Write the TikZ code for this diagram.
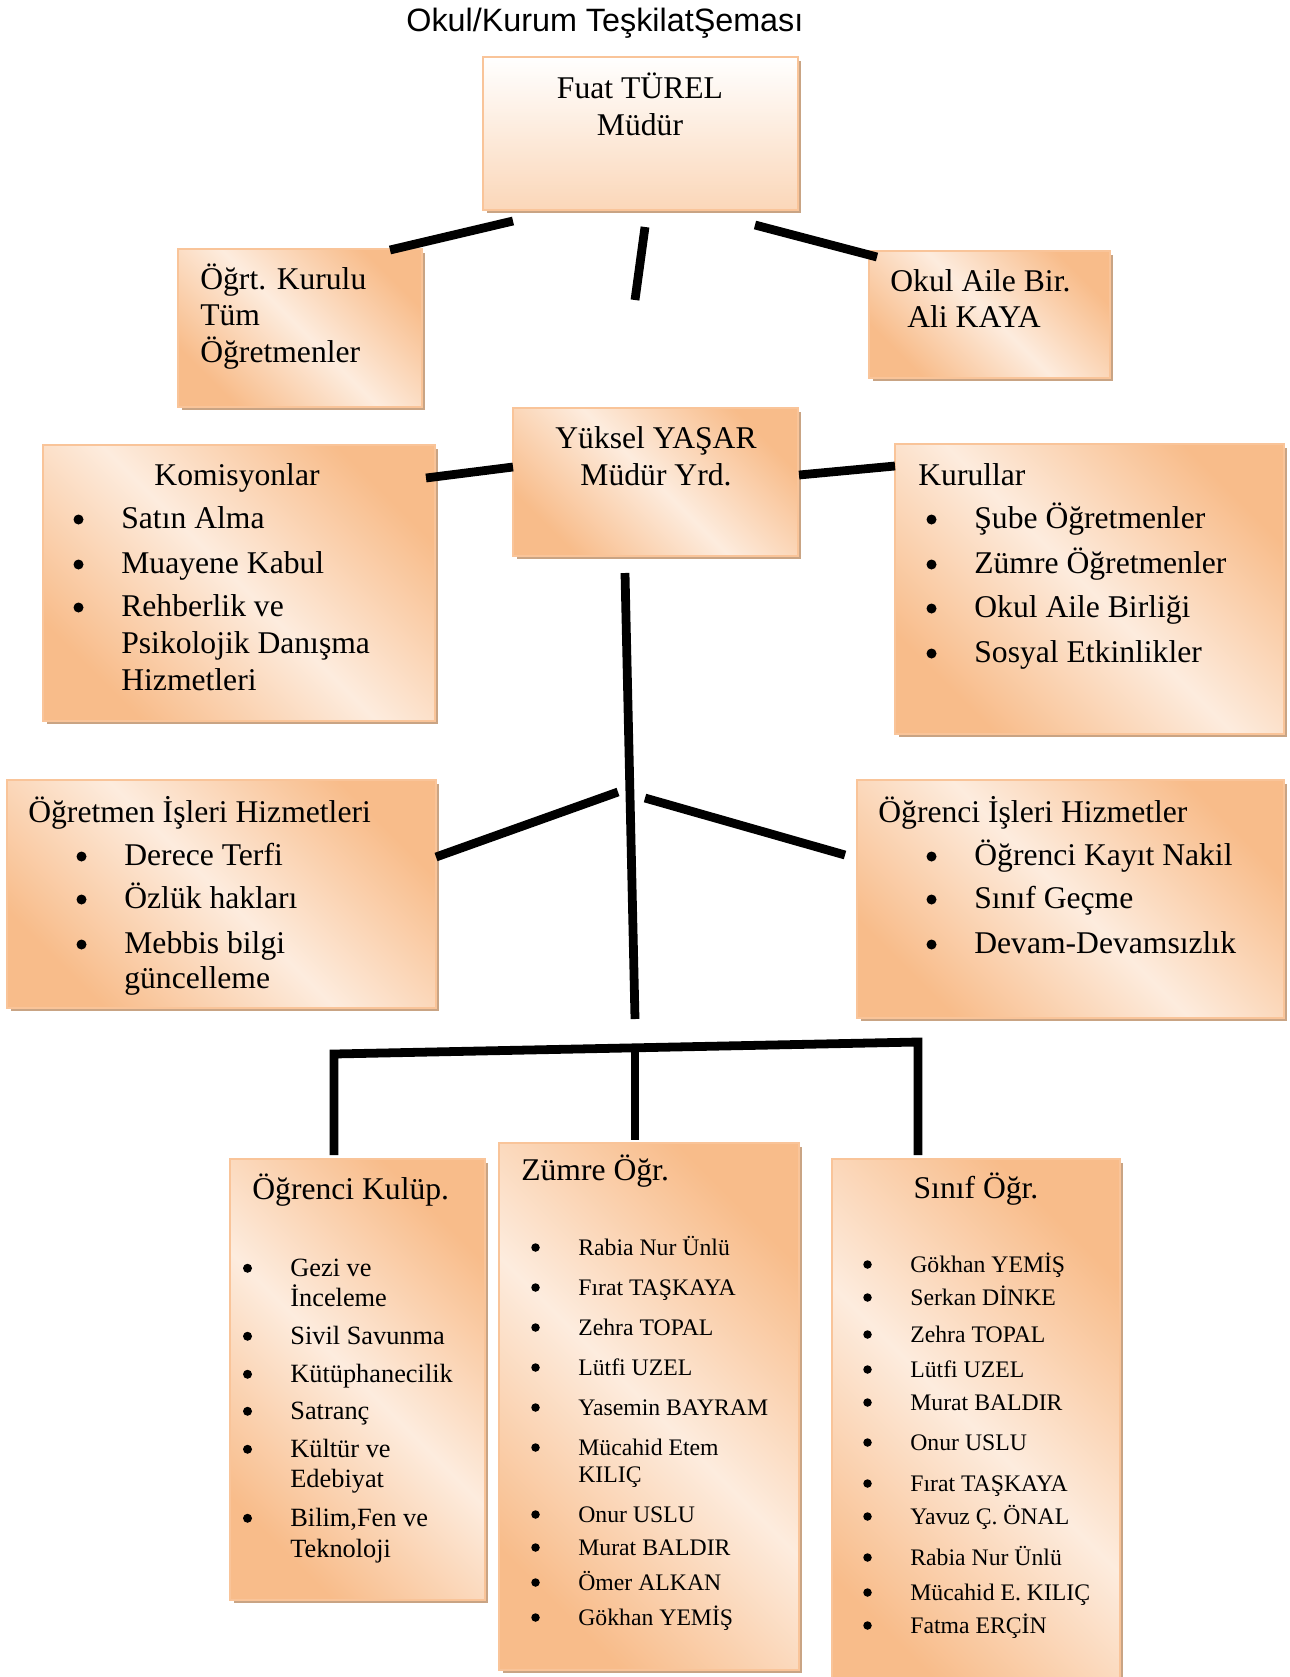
\documentclass[tikz,border=0pt]{standalone}
\usepackage{fontspec}
\setmainfont{Liberation Serif}
\newfontfamily\titlefont{Liberation Sans}
\usetikzlibrary{shadows}
\definecolor{peach}{RGB}{248,188,138}
\definecolor{peachlight}{RGB}{253,236,222}
\definecolor{boxline}{RGB}{249,196,153}
\definecolor{shadowbrown}{RGB}{201,164,132}
% madde imi: dugumun solunda dolu daire
\newcommand\bulat[3]{\fill ([shift={(-0.85cm,#2)}]#1.base west) circle (#3);}

\begin{document}
\begin{tikzpicture}[x=0.02cm, y=-0.02cm,
  box/.style={rectangle, draw=boxline, line width=1.1pt, left color=peach, right color=peach, middle color=peachlight, shading angle=135,
    drop shadow={shadow xshift=0.07cm, shadow yshift=-0.07cm, fill=shadowbrown, opacity=1}},
  topbox/.style={rectangle, draw=boxline, line width=1.1pt, top color=white, bottom color=peach!60,
    drop shadow={shadow xshift=0.07cm, shadow yshift=-0.07cm, fill=shadowbrown, opacity=1}},
  txt/.style={inner sep=0pt, anchor=base west, font=\fontsize{18}{21}\selectfont},
  midtxt/.style={txt, font=\fontsize{15}{18}\selectfont},
  smalltxt/.style={txt, font=\fontsize{13.5}{16}\selectfont},
  link/.style={line width=5pt}]
\useasboundingbox (0,0) rectangle (1289,1677);

\node [inner sep=0pt, anchor=base west, font=\titlefont\fontsize{18.4}{21}\selectfont] (title) at (406,31) {Okul/Kurum TeşkilatŞeması};

% kutular
\node [topbox, minimum width=6.30cm, minimum height=3.06cm] (fuat) at (640.5,133.5) {};
\node [box, minimum width=4.88cm, minimum height=3.16cm] (krl) at (300,328) {};
\node [box, minimum width=4.82cm, minimum height=2.54cm] (oab) at (989.5,314.5) {};
\node [box, minimum width=5.70cm, minimum height=2.96cm] (yrd) at (655.5,482) {};
\node [box, minimum width=7.84cm, minimum height=5.52cm] (kom) at (239,583) {};
\node [box, minimum width=7.78cm, minimum height=5.80cm] (kur) at (1089.5,589) {};
\node [box, minimum width=8.58cm, minimum height=4.56cm] (ogt) at (221.5,894) {};
\node [box, minimum width=8.54cm, minimum height=4.76cm] (ogr) at (1070.5,899) {};
\node [box, minimum width=5.10cm, minimum height=8.82cm] (klp) at (357.5,1379.5) {};
\node [box, minimum width=6.00cm, minimum height=10.54cm] (zum) at (649,1406.5) {};
\node [box, minimum width=5.76cm, minimum height=10.82cm] (sin) at (976,1429.5) {};

% yazilar
\node [txt, anchor=base] (fuat-1) at (640,98) {Fuat TÜREL};
\node [txt, anchor=base] (fuat-2) at (640,135) {Müdür};
\node [txt] (krl-1) at (200,289) {Öğrt. Kurulu};
\node [txt] (krl-2) at (200,325) {Tüm};
\node [txt] (krl-3) at (200,362) {Öğretmenler};
\node [txt] (oab-1) at (890,291) {Okul Aile Bir.};
\node [txt] (oab-2) at (907,327) {Ali KAYA};
\node [txt, anchor=base] (yrd-1) at (656,448) {Yüksel YAŞAR};
\node [txt, anchor=base] (yrd-2) at (656,485) {Müdür Yrd.};

\node [txt, anchor=base] (kom-0) at (237,485) {Komisyonlar};
\foreach \b/\lbl/\yy [count=\i] in {1/Satın Alma/528, 1/Muayene Kabul/573, 1/Rehberlik ve/616, 0/Psikolojik Danışma/653, 0/Hizmetleri/690}{
  \node [txt] (kom-\i) at (121,\yy) {\lbl};
  \ifnum\b=1 \bulat{kom-\i}{0.17cm}{0.1cm}\fi
}

\node [txt] (kur-0) at (918,485) {Kurullar};
\foreach \b/\lbl/\yy [count=\i] in {1/Şube Öğretmenler/528, 1/Zümre Öğretmenler/573, 1/Okul Aile Birliği/617, 1/Sosyal Etkinlikler/662}{
  \node [txt] (kur-\i) at (974,\yy) {\lbl};
  \ifnum\b=1 \bulat{kur-\i}{0.17cm}{0.1cm}\fi
}

\node [txt] (ogt-0) at (28,822) {Öğretmen İşleri Hizmetleri};
\foreach \b/\lbl/\yy [count=\i] in {1/Derece Terfi/865, 1/Özlük hakları/908, 1/Mebbis bilgi/953, 0/güncelleme/988}{
  \node [txt] (ogt-\i) at (124,\yy) {\lbl};
  \ifnum\b=1 \bulat{ogt-\i}{0.17cm}{0.1cm}\fi
}

\node [txt] (ogr-0) at (878,822) {Öğrenci İşleri Hizmetler};
\foreach \b/\lbl/\yy [count=\i] in {1/Öğrenci Kayıt Nakil/865, 1/Sınıf Geçme/908, 1/Devam-Devamsızlık/953}{
  \node [txt] (ogr-\i) at (974,\yy) {\lbl};
  \ifnum\b=1 \bulat{ogr-\i}{0.17cm}{0.1cm}\fi
}

\node [txt] (klp-0) at (252,1199) {Öğrenci Kulüp.};
\foreach \b/\lbl/\yy [count=\i] in {1/Gezi ve/1276, 0/İnceleme/1306, 1/Sivil Savunma/1344, 1/Kütüphanecilik/1382, 1/Satranç/1419, 1/Kültür ve/1457, 0/Edebiyat/1487, 1/{Bilim,Fen ve}/1526, 0/Teknoloji/1557}{
  \node [midtxt] (klp-\i) at (290,\yy) {\lbl};
  \ifnum\b=1 \bulat{klp-\i}{0.155cm}{0.09cm}\fi
}

\node [txt] (zum-0) at (521,1180) {Zümre Öğr.};
\foreach \b/\lbl/\yy [count=\i] in {1/Rabia Nur Ünlü/1255, 1/Fırat TAŞKAYA/1295, 1/Zehra TOPAL/1335, 1/Lütfi UZEL/1375, 1/Yasemin BAYRAM/1415, 1/Mücahid Etem/1455, 0/KILIÇ/1482, 1/Onur USLU/1522, 1/Murat BALDIR/1555, 1/Ömer ALKAN/1590, 1/Gökhan YEMİŞ/1625}{
  \node [smalltxt] (zum-\i) at (578,\yy) {\lbl};
  \ifnum\b=1 \bulat{zum-\i}{0.15cm}{0.085cm}\fi
}

\node [txt, anchor=base] (sin-0) at (976,1198) {Sınıf Öğr.};
\foreach \b/\lbl/\yy [count=\i] in {1/Gökhan YEMİŞ/1272, 1/Serkan DİNKE/1305, 1/Zehra TOPAL/1342, 1/Lütfi UZEL/1377, 1/Murat BALDIR/1410, 1/Onur USLU/1450, 1/Fırat TAŞKAYA/1491, 1/Yavuz Ç. ÖNAL/1524, 1/Rabia Nur Ünlü/1565, 1/Mücahid E. KILIÇ/1600, 1/Fatma ERÇİN/1633}{
  \node [smalltxt] (sin-\i) at (910,\yy) {\lbl};
  \ifnum\b=1 \bulat{sin-\i}{0.15cm}{0.085cm}\fi
}

% cizgiler
\coordinate (l1a) at (390,250); \coordinate (l1b) at (513,221);
\coordinate (l2a) at (645,227); \coordinate (l2b) at (635,300);
\coordinate (l3a) at (755,225); \coordinate (l3b) at (877,257);
\coordinate (l4a) at (426,478); \coordinate (l4b) at (513,467);
\coordinate (l5a) at (799,475); \coordinate (l5b) at (895,466);
\coordinate (l6a) at (625,573); \coordinate (l6b) at (635,1019);
\coordinate (l7a) at (436,857); \coordinate (l7b) at (618,792);
\coordinate (l8a) at (645,798); \coordinate (l8b) at (845,855);
\coordinate (hl) at (334,1054); \coordinate (hr) at (918,1042);
\coordinate (hm) at (635,1048);
\coordinate (dl) at (334,1155); \coordinate (dm) at (635,1140); \coordinate (dr) at (918,1155);

\draw [link] (l1a) -- (l1b);
\draw [link] (l2a) -- (l2b);
\draw [link] (l3a) -- (l3b);
\draw [link] (l4a) -- (l4b);
\draw [link] (l5a) -- (l5b);
\draw [link] (l6a) -- (l6b);
\draw [link] (l7a) -- (l7b);
\draw [link] (l8a) -- (l8b);
\draw [link] (dl) -- (hl) -- (hr) -- (dr);
\draw [link] (hm) -- (dm);
\end{tikzpicture}
\end{document}
